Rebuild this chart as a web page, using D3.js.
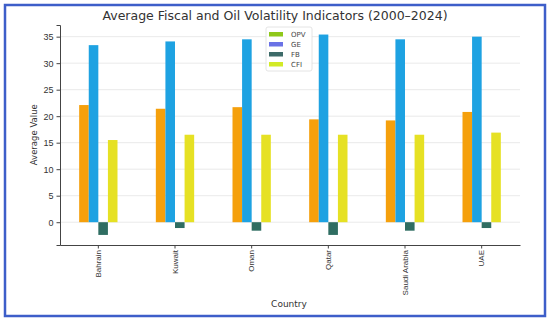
<!DOCTYPE html>
<html>
<head>
<meta charset="utf-8">
<script src="https://cdn.jsdelivr.net/npm/d3@7"></script>
<style>
  body { margin: 0; background: #fff; }
  svg { display: block; font-family: "DejaVu Sans", sans-serif; }
</style>
</head>
<body>
<div id="chart"></div>
<script>
const countries = ['Bahrain', 'Kuwait', 'Oman', 'Qatar', 'Saudi Arabia', 'UAE'];
const seriesNames = ['OPV', 'GE', 'FB', 'CFI'];
const opv = [22.1, 21.4, 21.7, 19.4, 19.2, 20.8];
const ge = [33.4, 34.1, 34.5, 35.4, 34.5, 35.0];
const fb = [-2.4, -1.1, -1.6, -2.4, -1.6, -1.1];
const cfi = [15.5, 16.5, 16.5, 16.5, 16.5, 16.9];
const yTicks = [0, 5, 10, 15, 20, 25, 30, 35];

const barColors = ['#f5a00c', '#1ea2e2', '#2f6d62', '#e6e124'];
const legendColors = ['#8fc81a', '#6a72e6', '#3d6b69', '#d2ea26'];

const W = 550, H = 321;
const margin = {left: 60, right: 30, top: 25, bottom: 76};

const svg = d3.select('#chart').append('svg')
    .attr('width', W)
    .attr('height', H);

svg.append('rect')
    .attr('x', 5).attr('y', 5)
    .attr('width', 540).attr('height', 311)
    .attr('fill', '#fff')
    .attr('stroke', '#3d5ec9')
    .attr('stroke-width', 2.5);

const x = d3.scaleBand()
    .domain(countries)
    .range([margin.left, W - margin.right]);

const x1 = d3.scaleBand()
    .domain(seriesNames)
    .range([0, x.bandwidth() * 0.5]);

const y = d3.scaleLinear()
    .domain([-4.3, 37.2])
    .range([H - margin.bottom, margin.top]);

// grid
svg.append('g')
    .selectAll('line')
    .data(yTicks)
    .join('line')
    .attr('x1', margin.left)
    .attr('x2', W - margin.right)
    .attr('y1', d => y(d))
    .attr('y2', d => y(d))
    .attr('stroke', '#e4e4e4')
    .attr('stroke-width', 0.8);

// bars
const rows = countries.map((c, i) => ({country: c, values: [opv[i], ge[i], fb[i], cfi[i]]}));
const groups = svg.append('g')
    .selectAll('g')
    .data(rows)
    .join('g')
    .attr('transform', d => 'translate(' + (x(d.country) + x.bandwidth() * 0.25) + ',0)');

groups.selectAll('rect')
    .data(d => d.values.map((v, j) => ({name: seriesNames[j], value: v, j: j})))
    .join('rect')
    .attr('x', d => x1(d.name))
    .attr('width', x1.bandwidth())
    .attr('y', d => Math.min(y(d.value), y(0)))
    .attr('height', d => Math.abs(y(d.value) - y(0)))
    .attr('fill', d => barColors[d.j]);

// axes
const yAxis = svg.append('g')
    .attr('transform', 'translate(' + margin.left + ',0)')
    .call(d3.axisLeft(y).tickValues(yTicks).tickSize(3.5).tickPadding(3));
yAxis.select('.domain').attr('stroke', '#444');
yAxis.selectAll('.tick line').attr('stroke', '#444');
yAxis.selectAll('text').attr('font-size', 9).attr('fill', '#333');

const xAxis = svg.append('g')
    .attr('transform', 'translate(0,' + (H - margin.bottom) + ')')
    .call(d3.axisBottom(x).tickSize(3.5).tickSizeOuter(0));
xAxis.select('.domain').attr('stroke', '#444');
xAxis.selectAll('.tick line').attr('stroke', '#444');
xAxis.selectAll('text')
    .attr('font-size', 8)
    .attr('fill', '#333')
    .attr('transform', 'rotate(-90)')
    .attr('text-anchor', 'end')
    .attr('x', -5)
    .attr('y', 0)
    .attr('dy', '0.35em');

// labels
svg.append('text')
    .attr('x', 275).attr('y', 20)
    .attr('text-anchor', 'middle')
    .attr('font-size', 12.5)
    .attr('fill', '#333')
    .text('Average Fiscal and Oil Volatility Indicators (2000\u20132024)');

svg.append('text')
    .attr('transform', 'translate(37,' + y(16.5) + ') rotate(-90)')
    .attr('text-anchor', 'middle')
    .attr('font-size', 8.5)
    .attr('fill', '#333')
    .text('Average Value');

svg.append('text')
    .attr('x', 289).attr('y', 307)
    .attr('text-anchor', 'middle')
    .attr('font-size', 9)
    .attr('fill', '#333')
    .text('Country');

// legend
const legend = svg.append('g').attr('transform', 'translate(266,27)');
legend.append('rect')
    .attr('width', 46).attr('height', 44)
    .attr('rx', 2)
    .attr('fill', '#fff')
    .attr('fill-opacity', 0.85)
    .attr('stroke', '#ddd')
    .attr('stroke-width', 0.8);
seriesNames.forEach((s, i) => {
    legend.append('rect')
        .attr('x', 3).attr('y', 5 + i * 10)
        .attr('width', 14).attr('height', 4.5)
        .attr('fill', legendColors[i]);
    legend.append('text')
        .attr('x', 25).attr('y', 7.5 + i * 10)
        .attr('dy', '0.35em')
        .attr('font-size', 7)
        .attr('fill', '#444')
        .text(s);
});
</script>
</body>
</html>
